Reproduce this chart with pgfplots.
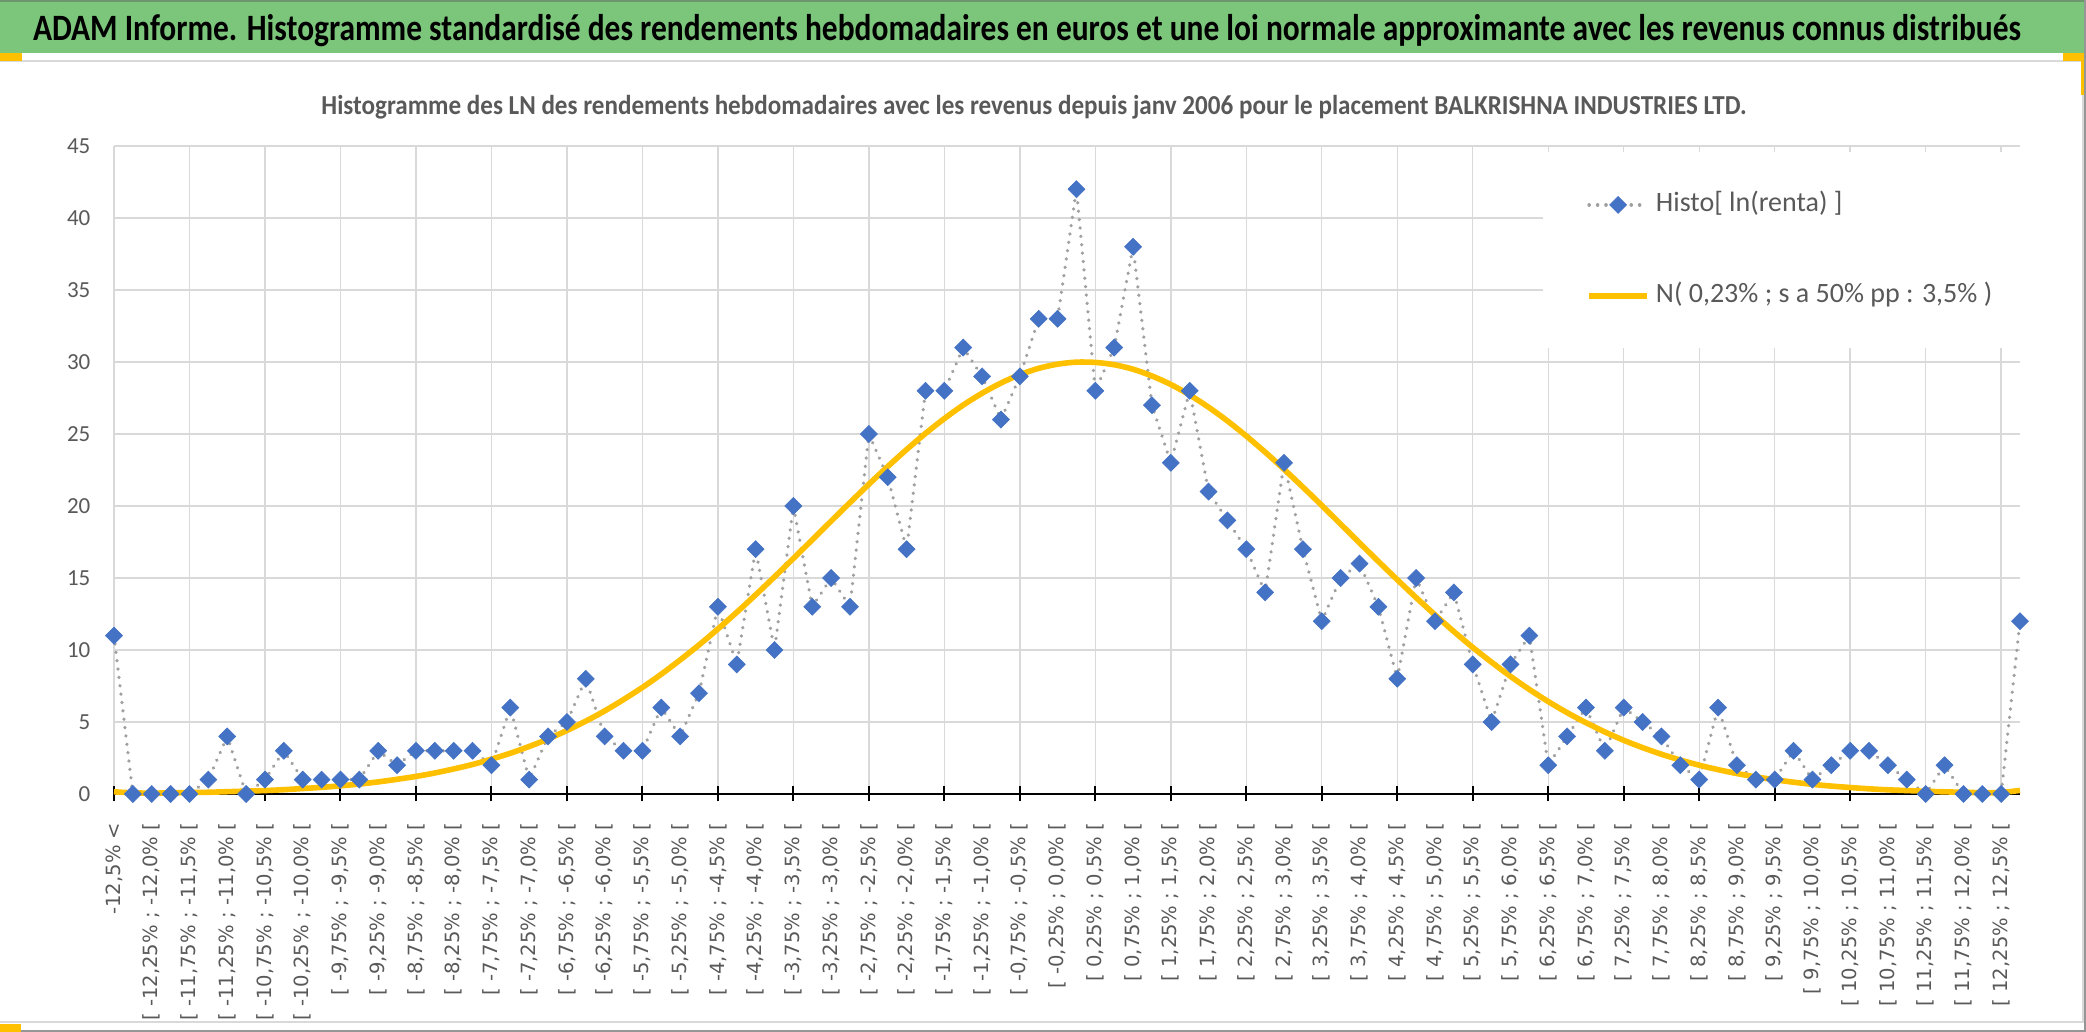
\documentclass[border=0pt]{standalone}
\usepackage{fontspec}
\setmainfont{Carlito}
\newfontfamily\djv{DejaVu Sans}
\usepackage{graphicx}
\usepackage{pgfplots}
\usepackage{pgfplotstable}
\pgfplotsset{compat=1.18}

\definecolor{banner}{RGB}{124,198,124}
\definecolor{txtgray}{RGB}{89,89,89}
\definecolor{gridgray}{RGB}{217,217,217}
\definecolor{markblue}{RGB}{68,114,196}
\definecolor{curveyel}{RGB}{255,192,0}
\definecolor{dotgray}{RGB}{160,160,160}

\pgfplotstableread{
k h n
0 11 0.15
1 0 0.08
2 0 0.06
3 0 0.08
4 0 0.10
5 1 0.12
6 4 0.16
7 0 0.20
8 1 0.24
9 3 0.30
10 1 0.38
11 1 0.46
12 1 0.57
13 1 0.69
14 3 0.84
15 2 1.02
16 3 1.22
17 3 1.46
18 3 1.74
19 3 2.05
20 2 2.42
21 6 2.83
22 1 3.30
23 4 3.82
24 5 4.41
25 8 5.06
26 4 5.77
27 3 6.56
28 3 7.40
29 6 8.32
30 4 9.31
31 7 10.35
32 13 11.46
33 9 12.62
34 17 13.83
35 10 15.08
36 20 16.36
37 13 17.65
38 15 18.95
39 13 20.24
40 25 21.51
41 22 22.74
42 17 23.92
43 28 25.04
44 28 26.07
45 31 27.01
46 29 27.83
47 26 28.54
48 29 29.12
49 33 29.56
50 33 29.85
51 42 29.99
52 28 29.97
53 31 29.81
54 38 29.50
55 27 29.03
56 23 28.44
57 28 27.71
58 21 26.86
59 19 25.91
60 17 24.86
61 14 23.74
62 23 22.55
63 17 21.31
64 12 20.04
65 15 18.74
66 16 17.44
67 13 16.15
68 8 14.88
69 15 13.64
70 12 12.44
71 14 11.28
72 9 10.18
73 5 9.15
74 9 8.17
75 11 7.26
76 2 6.42
77 4 5.65
78 6 4.95
79 3 4.31
80 6 3.73
81 5 3.22
82 4 2.76
83 2 2.36
84 1 2.00
85 6 1.69
86 2 1.42
87 1 1.19
88 1 0.99
89 3 0.82
90 1 0.67
91 2 0.55
92 3 0.45
93 3 0.36
94 2 0.29
95 1 0.24
96 0 0.19
97 2 0.15
98 0 0.12
99 0 0.09
100 0 0.10
101 12 0.25
}\datatable

\begin{document}
\begin{tikzpicture}
\fill[white] (0,0) rectangle (1043pt,516pt);
\fill[banner] (0,489.5pt) rectangle (1042pt,516pt);
\draw[line width=1pt, color={rgb,255:red,110;green,150;blue,110}] (0,515.5pt) -- (1043pt,515.5pt);
\draw[gridgray, line width=1pt] (0,485.5pt) -- (1041.5pt,485.5pt) -- (1041.5pt,5pt) -- (0,5pt);
\draw[line width=1pt, color={rgb,255:red,150;green,150;blue,150}] (0,0.5pt) -- (1043pt,0.5pt);
\draw[line width=1pt, color={rgb,255:red,150;green,150;blue,150}] (1042.5pt,0) -- (1042.5pt,516pt);
\fill[curveyel] (0,485.5pt) rectangle (11pt,489.5pt);
\fill[curveyel] (1031.5pt,485.5pt) rectangle (1042pt,489.5pt);
\fill[curveyel] (1040.5pt,468.5pt) rectangle (1042pt,485.5pt);
\fill[curveyel] (0,0) rectangle (10.5pt,4pt);
\node[anchor=base, inner sep=0pt, font=\fontsize{18.6}{22}\selectfont\bfseries] at (513.5pt,495.5pt)
  {\resizebox{994pt}{\height}{ADAM Informe. Histogramme standardisé des rendements hebdomadaires en euros et une loi normale approximante avec les revenus connus distribués}};
\node[anchor=base, inner sep=0pt, text=txtgray, font=\fontsize{13.7}{16}\selectfont\bfseries] at (517pt,458.5pt)
  {\resizebox{712.5pt}{\height}{Histogramme des LN des rendements hebdomadaires avec les revenus depuis janv 2006 pour le placement BALKRISHNA INDUSTRIES LTD.}};
\begin{axis}[
  at={(57pt,119pt)}, anchor=south west,
  scale only axis, width=953pt, height=324pt,
  xmin=0, xmax=101, ymin=0, ymax=45,
  clip=false,
  axis x line*=bottom, axis y line*=left,
  separate axis lines,
  x axis line style={black, line width=1pt, -},
  y axis line style={draw=none},
  xtick={0,2,...,100},
  minor xtick={0,4,...,100},
  ytick={0,5,...,45},
  xmajorgrids=false, xminorgrids=true, ymajorgrids=true,
  minor x grid style={gridgray, line width=0.7pt},
  y grid style={gridgray, line width=0.7pt},
  major x tick style={draw=none},
  ytick style={draw=none},
  minor x tick style={black, line width=1pt},
  minor tick length=7.5pt,
  tick align=center,
  /pgf/number format/assume math mode=true,
  yticklabel style={font=\fontsize{11.5}{13}\selectfont, text=txtgray, anchor=east, inner sep=0pt},
  yticklabel shift=9.5pt,
  xticklabel style={font=\djv\fontsize{9.8}{11}\selectfont, text=txtgray, rotate=90, anchor=east, inner sep=0pt},
  xticklabel shift=12pt,
  xticklabels={
    {-12,5\% <},
    {[ -12,25\% ; -12,0\% [}, {[ -11,75\% ; -11,5\% [}, {[ -11,25\% ; -11,0\% [}, {[ -10,75\% ; -10,5\% [},
    {[ -10,25\% ; -10,0\% [}, {[ -9,75\% ; -9,5\% [}, {[ -9,25\% ; -9,0\% [}, {[ -8,75\% ; -8,5\% [},
    {[ -8,25\% ; -8,0\% [}, {[ -7,75\% ; -7,5\% [}, {[ -7,25\% ; -7,0\% [}, {[ -6,75\% ; -6,5\% [},
    {[ -6,25\% ; -6,0\% [}, {[ -5,75\% ; -5,5\% [}, {[ -5,25\% ; -5,0\% [}, {[ -4,75\% ; -4,5\% [},
    {[ -4,25\% ; -4,0\% [}, {[ -3,75\% ; -3,5\% [}, {[ -3,25\% ; -3,0\% [}, {[ -2,75\% ; -2,5\% [},
    {[ -2,25\% ; -2,0\% [}, {[ -1,75\% ; -1,5\% [}, {[ -1,25\% ; -1,0\% [}, {[ -0,75\% ; -0,5\% [},
    {[ -0,25\% ; 0,0\% [}, {[ 0,25\% ; 0,5\% [}, {[ 0,75\% ; 1,0\% [}, {[ 1,25\% ; 1,5\% [},
    {[ 1,75\% ; 2,0\% [}, {[ 2,25\% ; 2,5\% [}, {[ 2,75\% ; 3,0\% [}, {[ 3,25\% ; 3,5\% [},
    {[ 3,75\% ; 4,0\% [}, {[ 4,25\% ; 4,5\% [}, {[ 4,75\% ; 5,0\% [}, {[ 5,25\% ; 5,5\% [},
    {[ 5,75\% ; 6,0\% [}, {[ 6,25\% ; 6,5\% [}, {[ 6,75\% ; 7,0\% [}, {[ 7,25\% ; 7,5\% [},
    {[ 7,75\% ; 8,0\% [}, {[ 8,25\% ; 8,5\% [}, {[ 8,75\% ; 9,0\% [}, {[ 9,25\% ; 9,5\% [},
    {[ 9,75\% ; 10,0\% [}, {[ 10,25\% ; 10,5\% [}, {[ 10,75\% ; 11,0\% [}, {[ 11,25\% ; 11,5\% [},
    {[ 11,75\% ; 12,0\% [}, {[ 12,25\% ; 12,5\% [}
  },
  legend image code/.code={\draw[mark repeat=2,mark phase=2,#1] plot coordinates {(0pt,0pt) (14.5pt,0pt) (29pt,0pt)};},
  legend style={at={(0.7497,0.9907)}, anchor=north west, draw=none, fill=white,
    inner xsep=21.5pt, inner ysep=19.5pt, row sep=32pt, column sep=3pt,
    font=\fontsize{14}{16}\selectfont, text=txtgray,
    nodes={inner sep=0pt, text height=10pt, text depth=3.5pt}},
  legend cell align=left,
]
\addplot[dotgray, line width=1.8pt, line cap=round, dash pattern=on 0.01pt off 4.2pt,
  mark=square*, mark size=3.0pt,
  mark options={rotate=45, solid, fill=markblue, draw=markblue, line width=0.3pt}]
  table[x=k, y=h] {\datatable};
\addlegendentry{Histo[ ln(renta) ]}
\addplot[curveyel, line width=2.8pt, smooth] table[x=k, y=n] {\datatable};
\addlegendentry{N( 0,23\% ; s a 50\% pp : 3,5\% )}
\end{axis}
\pgfresetboundingbox
\path (0,0) rectangle (1043pt,516pt);
\end{tikzpicture}
\end{document}
